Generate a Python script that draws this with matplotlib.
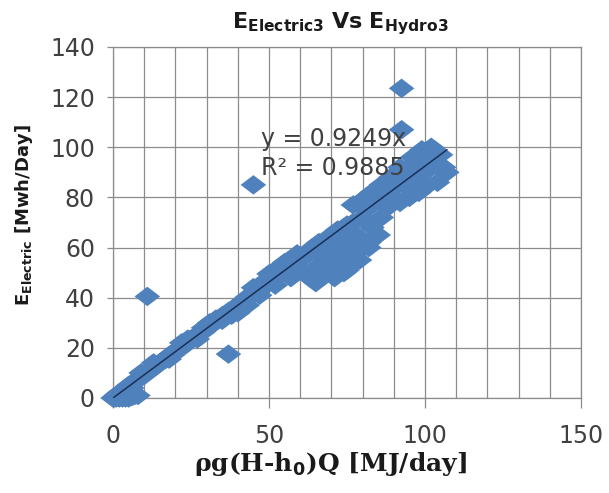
import numpy as np
import matplotlib
matplotlib.use('Agg')
import matplotlib.pyplot as plt

plt.rcParams['mathtext.fontset'] = 'dejavusans'

# readings: E_hydro (x) vs E_electric (y)
hydro_low = [0, 0.5, 1, 1.5, 2, 2.5, 3, 3.5, 4, 4.5, 5, 6, 7, 1, 2, 3, 4, 6, 8,
             5, 6, 7, 8, 9, 10, 11, 12, 13, 14, 15, 16, 17, 18, 19, 20, 21, 22,
             23, 24, 25, 26, 27, 28, 29, 30, 31, 32, 33, 34, 35, 36, 37, 38, 39, 40,
             9, 13, 18, 22, 27, 31, 35, 38, 40, 24, 29, 33]
electric_low = [0, 0, 0, 0.5, 0, 1, 0, 0.5, 0, 1, 0, 0.5, 1, 1, 2, 2.5, 3, 4, 1,
                5, 5.5, 6.8, 7.2, 8.5, 9, 10.5, 11, 12.3, 12.8, 14, 15, 15.5, 17, 17.2,
                18.8, 19.5, 20, 21.5, 22, 23.5, 24, 25, 26.2, 26.5, 28, 28.5, 29.8, 30.5,
                31.5, 32.8, 33, 34.5, 35, 36.2, 37,
                10, 14, 15.5, 22, 23.5, 30, 31, 33, 34, 23.5, 28, 31.5]

hydro_mid = [41, 42, 43, 44, 45, 46, 47, 48, 49, 50, 51, 52, 53, 54, 55, 56, 57, 58,
             59, 60, 43, 47, 50, 52, 55, 57, 59, 45, 48, 53]
electric_mid = [37.5, 39, 40.2, 40.5, 42, 42.3, 43.8, 44, 45.5, 46, 47.5, 47.8, 49,
                50.2, 50.5, 52, 52.5, 53.8, 54.5, 55.5, 37, 41, 49.5, 45, 54, 49,
                57.5, 44, 46, 52]

hydro_high = [60, 61, 62, 63, 64, 65, 66, 66, 67, 68, 68, 69, 70, 70, 71, 72, 72, 73,
              74, 74, 75, 76, 77, 77, 78, 79, 80, 80, 81, 82, 83, 84, 85, 85, 86, 87,
              88, 89, 90, 90, 91, 92, 93, 94, 95, 96, 97, 98, 99, 100, 101, 102, 103,
              104, 105, 106, 107, 100, 95, 98,
              62, 64, 66, 68, 70, 72, 75, 77, 79, 80, 83, 86, 89, 92, 96, 99, 102,
              57, 65, 75, 82, 88]
electric_high = [55, 50, 58, 48, 60, 52, 49, 62, 56, 63, 50, 58, 65, 52, 48, 60, 67, 55,
                 50, 68, 62, 53, 70, 58, 65, 55, 72, 60, 75, 62, 68, 78, 65, 80, 72, 82,
                 76, 84, 80, 88, 85, 78, 90, 84, 92, 86, 94, 82, 96, 90, 98, 93, 99,
                 86, 97, 92, 90, 84, 80, 88,
                 57, 59, 61, 62, 64, 66, 69, 77, 78, 79, 82, 85, 88, 92, 96, 99, 100,
                 48, 46, 51, 60, 78]

hydro_out = [92.5, 92.5, 45, 11, 37]
electric_out = [123.5, 107, 85, 40.5, 17.5]

slope = 0.9249
r2 = 0.9885

x = np.array(hydro_low + hydro_mid + hydro_high + hydro_out)
y = np.array(electric_low + electric_mid + electric_high + electric_out)

fig = plt.figure(figsize=(6.09, 4.93), dpi=100)
ax = fig.add_axes([0.1856, 0.1927, 0.7684, 0.712])

diamond = [(-1, 0), (0, 0.76), (1, 0), (0, -0.76), (-1, 0)]
ax.scatter(x, y, marker=diamond, s=340, color='#4F81BD', edgecolors='none',
           clip_on=False, zorder=3)

xs = np.array([0, x.max()])
ax.plot(xs, slope * xs, color='#1A2F55', lw=1.1, zorder=4)

ax.text(47.5, 103.3, 'y = %.4fx' % slope, fontsize=17, color='#404040',
        va='center', ha='left', zorder=5)
ax.text(47.5, 91.7, 'R² = %.4f' % r2, fontsize=17, color='#404040',
        va='center', ha='left', zorder=5)

ax.set_xlim(0, 150)
ax.set_ylim(0, 140)
ax.set_xticks([0, 50, 100, 150])
ax.set_xticks(np.arange(0, 151, 10), minor=True)
ax.set_yticks(np.arange(0, 141, 20))
ax.grid(True, which='major', color='#8C8C8C', lw=0.9)
ax.grid(True, which='minor', axis='x', color='#8C8C8C', lw=0.9)
ax.set_axisbelow(True)
for s in ax.spines.values():
    s.set_color('#8C8C8C')
    s.set_linewidth(0.9)

ax.tick_params(axis='x', which='major', length=7, width=0.9, color='#8C8C8C',
               pad=12, labelsize=17, labelcolor='#404040')
ax.tick_params(axis='x', which='minor', length=0)
ax.tick_params(axis='y', length=4, width=0.9, color='#8C8C8C', pad=9,
               labelsize=17, labelcolor='#404040')

fig.text(0.558, 0.953, r'$\mathbf{E_{Electric3}}$ $\mathbf{Vs}$ $\mathbf{E_{Hydro3}}$',
         fontsize=16, ha='center', va='center', color='#1A1A1A')
fig.text(0.040, 0.564, r'$\mathbf{E_{Electric}}$ [Mwh/Day]', fontsize=13,
         fontweight='bold', rotation=90, ha='center', va='center', color='#1A1A1A')
fig.text(0.542, 0.059, r'ρg(H-h$_\mathbf{0}$)Q [MJ/day]', fontsize=18,
         family='DejaVu Serif', fontweight='bold', ha='center', va='center',
         color='#1A1A1A')

fig.savefig('out.png', dpi=100)
